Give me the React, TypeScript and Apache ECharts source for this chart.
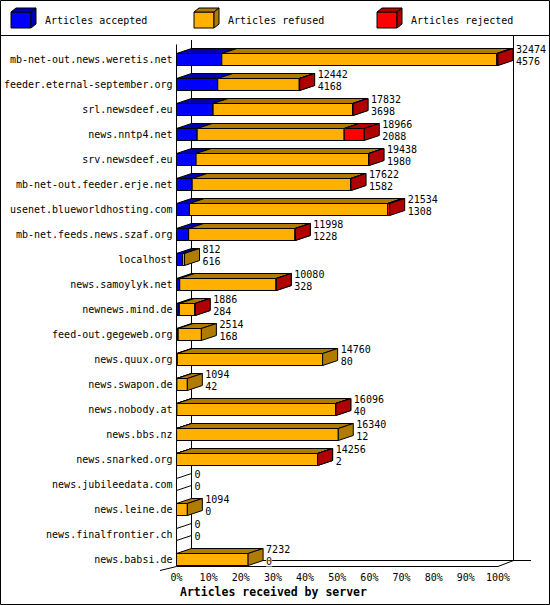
import { useEffect, useRef } from 'react';
import * as echarts from 'echarts';

// innfeed style stats: one row per peer
const servers = [
  'mb-net-out.news.weretis.net',
  'feeder.eternal-september.org',
  'srl.newsdeef.eu',
  'news.nntp4.net',
  'srv.newsdeef.eu',
  'mb-net-out.feeder.erje.net',
  'usenet.blueworldhosting.com',
  'mb-net.feeds.news.szaf.org',
  'localhost',
  'news.samoylyk.net',
  'newnews.mind.de',
  'feed-out.gegeweb.org',
  'news.quux.org',
  'news.swapon.de',
  'news.nobody.at',
  'news.bbs.nz',
  'news.snarked.org',
  'news.jubileedata.com',
  'news.leine.de',
  'news.finalfrontier.ch',
  'news.babsi.de',
];
const offered = [
  32474, 12442, 17832, 18966, 19438, 17622, 21534, 11998, 812, 10080, 1886,
  2514, 14760, 1094, 16096, 16340, 14256, 0, 1094, 0, 7232,
];
const accepted = [
  4576, 4168, 3698, 2088, 1980, 1582, 1308, 1228, 616, 328, 284, 168, 80, 42,
  40, 12, 2, 0, 0, 0, 0,
];
const rejected = [
  118, 36, 22, 2024, 14, 20, 212, 12, 0, 8, 16, 0, 0, 0, 6, 0, 4, 0, 0, 0, 0,
];
const legendNames = ['Articles accepted', 'Articles refused', 'Articles rejected'];

const FONT = 'DejaVu Sans Mono';
const FRONT = ['#0000ff', '#ffb000', '#ff0000'];
const SHADE = ['#0000b0', '#b07c00', '#b00000'];
const DX = 15;
const DY = 5;
const BAR_H = 12;

const App = () => {
  const chartRef = useRef<HTMLDivElement>(null);

  useEffect(() => {
    if (!chartRef.current) return;
    const chart = echarts.init(chartRef.current, null, { renderer: 'svg' });

    const maxTotal = Math.max(...offered);
    const pct = (v: number) => (v / maxTotal) * 100;
    const rows = servers.map((_, i) => {
      const refused = offered[i] - accepted[i] - rejected[i];
      return [i, pct(accepted[i]), pct(refused), pct(rejected[i]), offered[i], accepted[i]];
    });

    const renderBar = (_params: any, api: any) => {
      const row = api.value(0);
      const segs = [api.value(1), api.value(2), api.value(3)];
      const [x0, yc] = api.coord([0, row]);
      const top = yc - BAR_H / 2;
      const bot = yc + BAR_H / 2;
      const children: any[] = [];
      const line = { stroke: '#000', lineWidth: 1 };
      let cum = 0;
      let xEnd = x0;
      let drawn = false;
      segs.forEach((v: number, k: number) => {
        if (v <= 0) return;
        drawn = true;
        const xs = api.coord([cum, row])[0];
        cum += v;
        const xe = api.coord([cum, row])[0];
        children.push({
          type: 'rect',
          shape: { x: xs, y: top, width: xe - xs, height: BAR_H },
          style: { fill: FRONT[k], ...line },
        });
        children.push({
          type: 'polygon',
          shape: { points: [[xs, top], [xs + DX, top - DY], [xe + DX, top - DY], [xe, top]] },
          style: { fill: SHADE[k], ...line },
        });
        children.push({
          type: 'polygon',
          shape: { points: [[xe, top], [xe + DX, top - DY], [xe + DX, bot - DY], [xe, bot]] },
          style: { fill: SHADE[k], ...line },
        });
        xEnd = xe;
      });
      if (!drawn) {
        children.push({
          type: 'polygon',
          shape: { points: [[x0, top], [x0 + DX, top - DY], [x0 + DX, bot - DY], [x0, bot]] },
          style: { fill: '#fff', ...line },
        });
      }
      const tx = xEnd + DX + 3;
      [api.value(4), api.value(5)].forEach((n: number, j: number) => {
        children.push({
          type: 'text',
          x: tx,
          y: yc - 10 + j * 12,
          style: {
            text: String(n),
            fill: '#000',
            font: `10px "${FONT}"`,
            align: 'left',
            verticalAlign: 'middle',
            backgroundColor: '#fff',
          },
        });
      });
      return { type: 'group', children };
    };

    const legendGraphics: any[] = [];
    legendNames.forEach((name, k) => {
      const bx = 11 + 183 * k;
      const st = { stroke: '#000', lineWidth: 1 };
      legendGraphics.push(
        { type: 'rect', shape: { x: bx, y: 12, width: 20, height: 16 }, style: { fill: FRONT[k], ...st } },
        {
          type: 'polygon',
          shape: { points: [[bx, 12], [bx + 5, 8], [bx + 25, 8], [bx + 20, 12]] },
          style: { fill: SHADE[k], ...st },
        },
        {
          type: 'polygon',
          shape: { points: [[bx + 20, 12], [bx + 25, 8], [bx + 25, 24], [bx + 20, 28]] },
          style: { fill: SHADE[k], ...st },
        },
        {
          type: 'text',
          x: bx + 34,
          y: 20.5,
          style: { text: name, fill: '#000', font: `10px "${FONT}"`, verticalAlign: 'middle' },
        }
      );
    });

    const seg = (x1: number, y1: number, x2: number, y2: number) => ({
      type: 'line',
      z: 0,
      shape: { x1, y1, x2, y2 },
      style: { stroke: '#000', lineWidth: 1 },
    });

    const option = {
      animation: false,
      backgroundColor: '#fff',
      grid: { left: 176.5, width: 321.5, top: 47, height: 525 },
      xAxis: {
        type: 'value',
        min: 0,
        max: 100,
        interval: 10,
        axisLine: { show: false },
        axisTick: { show: false },
        splitLine: { show: false },
        axisLabel: {
          formatter: '{value}%',
          fontFamily: FONT,
          fontSize: 10,
          color: '#000',
          margin: 0,
        },
      },
      yAxis: {
        type: 'category',
        data: servers,
        inverse: true,
        axisLine: { show: false },
        axisTick: { show: false },
        splitLine: { show: false },
        axisLabel: { fontFamily: FONT, fontSize: 10, color: '#000', margin: 4, interval: 0 },
      },
      graphic: {
        elements: [
          {
            type: 'rect',
            z: 0,
            shape: { x: 0.5, y: 0.5, width: 549, height: 604 },
            style: { fill: 'none', stroke: '#000', lineWidth: 1 },
          },
          seg(0, 35.5, 550, 35.5),
          seg(191.5, 40, 191.5, 560.5),
          seg(513.5, 35.5, 513.5, 560.5),
          seg(191.5, 560.5, 531, 560.5),
          seg(176.5, 44.5, 176.5, 566.5),
          seg(176.5, 566.5, 498, 566.5),
          seg(498, 566.5, 513.5, 560.5),
          seg(160, 570.5, 176.5, 566.5),
          ...legendGraphics,
          {
            type: 'text',
            x: 180,
            y: 592,
            style: {
              text: 'Articles received by server',
              fill: '#000',
              font: `bold 11.5px "${FONT}"`,
              verticalAlign: 'middle',
            },
          },
        ],
      },
      series: [
        {
          type: 'custom',
          renderItem: renderBar,
          encode: { x: [1, 2, 3], y: 0 },
          data: rows,
          z: 5,
        },
      ],
    };

    chart.setOption(option as any);

    return () => {
      chart.dispose();
    };
  }, []);

  return (
    <div
      ref={chartRef}
      style={{ position: 'absolute', left: 0, top: 0, width: '550px', height: '605px' }}
    />
  );
};

export default App;
